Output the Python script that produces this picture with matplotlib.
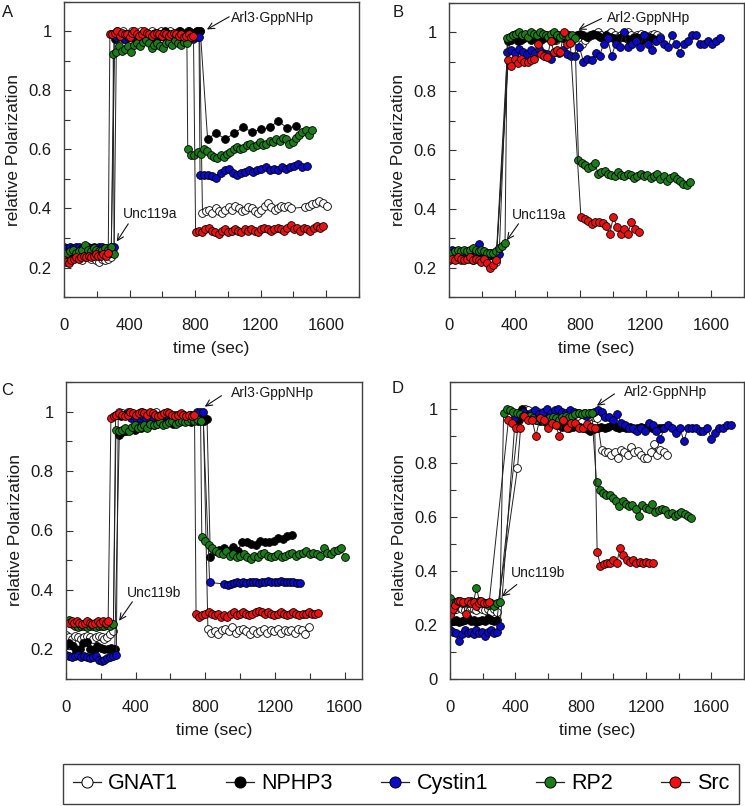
import matplotlib.pyplot as plt
from matplotlib.lines import Line2D
from matplotlib.ticker import MultipleLocator, FuncFormatter

plt.rcParams['font.family'] = ['Liberation Sans', 'DejaVu Sans']

names = ["GNAT1", "NPHP3", "Cystin1", "RP2", "Src"]
colors = ["#ffffff", "#000000", "#0a0ac8", "#1a7d1a", "#f01010"]

# every series = list of segments: (start time in sec, sampling step in sec, values)
# ---------------- panel A: Unc119a, then Arl3-GppNHp ----------------
a_gnat1 = [(0, 18, [0.245, 0.235, 0.24, 0.23, 0.235, 0.24, 0.225, 0.235, 0.24, 0.23, 0.235, 0.225, 0.22, 0.23, 0.225, 0.23, 0.235]),
           (305, 18, [0.99, 1.0, 0.995, 1.0, 0.99, 0.985, 1.0, 0.995, 0.99, 1.0, 0.995, 0.985, 0.99, 1.0, 0.995, 0.99, 1.0, 0.99, 0.995, 1.0, 0.985, 0.99, 1.0, 0.995, 0.99, 1.0, 0.995, 0.99, 1.0, 1.0]),
           (845, 20, [0.385, 0.39, 0.395, 0.385, 0.4, 0.39, 0.385, 0.395, 0.405, 0.395, 0.41, 0.4, 0.39, 0.395, 0.405, 0.4, 0.39, 0.385, 0.395, 0.41, 0.42, 0.405, 0.395, 0.4, 0.41, 0.405, 0.41, 0.4]),
           (1470, 22, [0.405, 0.41, 0.415, 0.42, 0.425, 0.42, 0.41])]
a_nphp3 = [(0, 18, [0.25, 0.255, 0.25, 0.245, 0.25, 0.255, 0.25, 0.245, 0.25, 0.25, 0.255, 0.25, 0.245, 0.25, 0.25, 0.245, 0.25]),
           (310, 18, [0.975, 0.98, 0.985, 0.975, 0.98, 0.99, 0.985, 0.975, 0.98, 0.985, 0.99, 0.98, 0.985, 0.99, 0.995, 0.985, 0.99, 1.0, 0.99, 0.985, 0.99, 0.995, 1.0, 0.99, 0.995, 1.0, 0.99, 0.995, 1.0, 1.0]),
           (876, 54, [0.637, 0.655, 0.635, 0.655, 0.675, 0.66, 0.668, 0.675, 0.697, 0.672, 0.68])]
a_cystin1 = [(0, 18, [0.27, 0.265, 0.27, 0.265, 0.268, 0.27, 0.265, 0.27, 0.268, 0.265, 0.27, 0.265, 0.268, 0.27, 0.265, 0.265, 0.27, 0.268]),
             (320, 18, [0.98, 0.985, 0.98, 0.975, 0.98, 0.985, 0.98, 0.975, 0.98, 0.985, 0.98, 0.985, 0.98, 0.975, 0.98, 0.985, 0.98, 0.975, 0.98, 0.985, 0.98, 0.975, 0.98, 0.985, 0.98, 0.98, 0.975, 0.98, 0.98]),
             (830, 25, [0.512, 0.513, 0.515, 0.51, 0.505, 0.52, 0.53, 0.535, 0.52, 0.515, 0.52, 0.525, 0.53, 0.525, 0.53, 0.535, 0.54, 0.53, 0.535, 0.53, 0.54, 0.535, 0.54, 0.545, 0.55, 0.54, 0.545])]
a_rp2 = [(0, 18, [0.245, 0.25, 0.255, 0.26, 0.25, 0.255, 0.26, 0.275, 0.26, 0.255, 0.265, 0.26, 0.255, 0.26, 0.265, 0.26, 0.27, 0.245]),
         (300, 18, [0.925, 0.93, 0.95, 0.935, 0.94, 0.95, 0.93, 0.955, 0.96, 0.95, 0.965, 0.97, 0.96, 0.945, 0.955, 0.96, 0.95, 0.945, 0.96, 0.965, 0.955, 0.97, 0.96, 0.955, 0.965, 0.96]),
         (755, 20, [0.6, 0.583, 0.58, 0.59, 0.585, 0.6, 0.595, 0.58, 0.575, 0.57, 0.58, 0.575, 0.585, 0.59, 0.6, 0.61, 0.6, 0.605, 0.615, 0.62, 0.61, 0.615, 0.625, 0.615, 0.62, 0.63, 0.625, 0.635, 0.63, 0.64, 0.635, 0.62, 0.625, 0.64, 0.65, 0.66, 0.665, 0.65, 0.665])]
a_src = [(0, 15, [0.225, 0.22, 0.215, 0.225, 0.23, 0.235, 0.23, 0.235, 0.24, 0.235, 0.24, 0.235, 0.24, 0.245, 0.24, 0.24, 0.245, 0.24, 0.25]),
         (280, 15, [0.99, 0.99, 0.995, 1.0, 0.985, 0.995, 0.99, 0.99, 0.98, 0.995, 1.0, 0.99, 0.985, 0.99, 1.0, 0.995, 0.99, 0.985, 0.99, 0.995, 0.99, 0.985, 0.995, 0.99, 0.985, 0.99, 0.995, 0.99, 0.985, 0.99, 0.98, 0.985, 0.99, 0.98, 0.985]),
         (803, 20, [0.322, 0.325, 0.32, 0.33, 0.335, 0.325, 0.32, 0.315, 0.325, 0.33, 0.32, 0.325, 0.33, 0.325, 0.32, 0.33, 0.325, 0.33, 0.325, 0.32, 0.33, 0.335, 0.33, 0.325, 0.33, 0.335, 0.33, 0.325, 0.335, 0.345, 0.33, 0.335, 0.325, 0.335, 0.33, 0.325, 0.335, 0.34, 0.335, 0.34])]

# ---------------- panel B: Unc119a, then Arl2-GppNHp ----------------
b_gnat1 = [(0, 18, [0.225, 0.23, 0.235, 0.23, 0.225, 0.23, 0.235, 0.23, 0.225, 0.23, 0.235, 0.23, 0.235, 0.24, 0.23, 0.225, 0.22]),
           (370, 20, [0.985, 0.99, 0.995, 0.98, 0.99, 0.985, 0.995, 0.98, 0.99, 0.975, 0.985, 0.99, 0.98, 0.985, 0.975, 0.99, 0.98, 0.985, 0.99, 0.975, 0.985, 0.97, 0.96, 0.975, 0.985, 0.99, 0.995, 1.0, 0.99, 0.985, 0.995, 1.0, 0.99, 0.985, 0.99, 0.995, 1.0, 0.99, 0.985, 0.99, 0.995, 0.99, 0.985, 0.99, 0.995, 0.99, 0.985])]
b_nphp3 = [(0, 18, [0.23, 0.235, 0.23, 0.24, 0.235, 0.23, 0.235, 0.24, 0.235, 0.23, 0.24, 0.235, 0.225, 0.24, 0.245, 0.24, 0.235]),
           (360, 20, [0.97, 0.975, 0.98, 0.97, 0.975, 0.98, 0.985, 0.975, 0.98, 0.97, 0.975, 0.98, 0.985, 0.98, 0.975, 0.98, 0.985, 0.98, 0.975, 0.98, 0.985, 0.99, 0.995, 0.99, 0.985, 0.99, 0.995, 0.99, 0.985, 0.98, 0.99, 0.985, 0.98, 0.975, 0.98, 0.985, 0.98, 0.975, 0.98, 0.985, 0.98, 0.975, 0.98, 0.985, 0.98, 0.975])]
b_cystin1 = [(0, 18, [0.25, 0.26, 0.255, 0.25, 0.245, 0.25, 0.255, 0.245, 0.25, 0.245, 0.28, 0.25, 0.245, 0.24, 0.25, 0.245, 0.24, 0.245]),
             (355, 24.5, [0.935, 0.94, 0.93, 0.945, 0.935, 0.925, 0.94, 0.93, 0.945, 0.93, 0.925, 0.91, 0.935, 0.93, 0.94, 0.925, 0.92, 0.92, 0.95, 0.90, 0.91, 0.905, 0.93, 0.92, 0.96, 0.98, 0.92, 0.96, 0.95, 1.0, 0.95, 0.96, 0.97, 0.95, 0.99, 0.96, 0.94, 0.97, 0.98, 0.96, 0.95, 0.99, 0.96, 0.93, 0.96, 0.97, 0.99, 0.99, 0.96, 0.96, 0.97, 0.96, 0.97, 0.98])]
b_rp2 = [(0, 18, [0.245, 0.25, 0.255, 0.26, 0.255, 0.26, 0.255, 0.26, 0.265, 0.26, 0.255, 0.26, 0.255, 0.25, 0.25, 0.25, 0.255, 0.265, 0.275, 0.285]),
         (355, 18, [0.98, 0.985, 0.99, 0.995, 1.0, 0.99, 0.995, 0.985, 1.0, 0.995, 0.99, 1.0, 0.995, 0.99, 0.985, 0.995, 1.0, 0.99, 0.985, 0.99, 0.995, 0.985, 0.99, 0.98]),
         (790, 20, [0.565, 0.555, 0.55, 0.54, 0.545, 0.555, 0.52, 0.525, 0.53, 0.52, 0.515, 0.51, 0.525, 0.515, 0.51, 0.52, 0.515, 0.505, 0.51, 0.52, 0.51, 0.515, 0.505, 0.51, 0.52, 0.50, 0.51, 0.495, 0.505, 0.51, 0.5, 0.495, 0.485, 0.48, 0.49])]
b_src = [(0, 18, [0.225, 0.23, 0.225, 0.235, 0.23, 0.225, 0.23, 0.235, 0.225, 0.23, 0.225, 0.22, 0.23, 0.215, 0.20, 0.21, 0.225]),
         (360, 20, [0.905, 0.885, 0.91, 0.895, 0.91, 0.9, 0.9, 0.905, 0.91, 0.96, 0.925, 0.92, 0.915, 0.97, 0.935, 0.94, 0.935, 1.0, 0.96, 0.965]),
         (805, 22, [0.372, 0.366, 0.36, 0.35, 0.355, 0.355, 0.352, 0.34, 0.315, 0.372, 0.339, 0.315, 0.33, 0.315, 0.355, 0.33, 0.32])]

# ---------------- panel C: Unc119b, then Arl3-GppNHp ----------------
c_gnat1 = [(0, 17, [0.247, 0.24, 0.235, 0.245, 0.24, 0.235, 0.24, 0.245, 0.24, 0.235, 0.24, 0.245, 0.24, 0.235, 0.24, 0.25, 0.26]),
           (285, 18, [0.99, 1.0, 0.995, 0.99, 1.0, 0.995, 0.985, 0.99, 1.0, 0.995, 0.99, 0.985, 0.995, 1.0, 0.99, 0.985, 0.995, 0.99, 0.985, 0.99, 0.985, 0.99, 0.98, 0.985, 0.99, 0.98, 0.985, 0.98, 0.985]),
           (815, 20, [0.27, 0.255, 0.26, 0.25, 0.265, 0.27, 0.26, 0.275, 0.255, 0.265, 0.27, 0.26, 0.25, 0.265, 0.255, 0.26, 0.27, 0.255, 0.265, 0.26, 0.27, 0.255, 0.265, 0.26, 0.265, 0.255, 0.27, 0.265, 0.25, 0.275])]
c_nphp3 = [(0, 20, [0.215, 0.22, 0.21, 0.195, 0.2, 0.22, 0.225, 0.2, 0.195, 0.21, 0.205, 0.2, 0.2, 0.205, 0.2]),
           (306, 18, [0.922, 0.93, 0.935, 0.94, 0.945, 0.94, 0.95, 0.945, 0.955, 0.95, 0.96, 0.955, 0.96, 0.965, 0.96, 0.97, 0.965, 0.96, 0.97, 0.965, 0.97, 0.975, 0.97, 0.965, 0.975, 0.97, 0.975, 0.97, 0.975]),
           (829, 26, [0.51, 0.53, 0.535, 0.54, 0.53, 0.545, 0.53, 0.56, 0.56, 0.555, 0.55, 0.565, 0.56, 0.56, 0.565, 0.575, 0.57, 0.58, 0.585])]
c_cystin1 = [(0, 17, [0.18, 0.178, 0.175, 0.178, 0.18, 0.175, 0.178, 0.175, 0.172, 0.175, 0.178, 0.165, 0.16, 0.165, 0.17, 0.175, 0.178, 0.18]),
             (300, 18, [0.99, 0.985, 0.99, 0.995, 0.98, 0.985, 0.975, 0.98, 0.985, 0.98, 0.975, 0.98, 0.985, 0.98, 0.985, 0.99, 0.985, 0.98, 0.985, 0.99, 0.985, 0.99, 0.985, 0.99, 0.985, 1.0, 1.0, 1.0]),
             (825, 1, [0.425]),
             (910, 18, [0.42, 0.418, 0.42, 0.422, 0.425, 0.423, 0.425, 0.422, 0.425, 0.427, 0.425, 0.423, 0.425, 0.428, 0.43, 0.425, 0.428, 0.425, 0.43, 0.428, 0.425, 0.428, 0.425, 0.423, 0.422])]
c_rp2 = [(17, 17, [0.30, 0.285, 0.28, 0.275, 0.278, 0.28, 0.275, 0.28, 0.278, 0.275, 0.28, 0.278, 0.28, 0.282, 0.28, 0.285]),
         (287, 18, [0.94, 0.935, 0.94, 0.945, 0.935, 0.95, 0.955, 0.945, 0.95, 0.955, 0.945, 0.96, 0.955, 0.96, 0.965, 0.955, 0.96, 0.965, 0.97, 0.96, 0.965, 0.97, 0.965, 0.97, 0.975, 0.97, 0.975, 0.97]),
         (780, 20, [0.578, 0.565, 0.55, 0.54, 0.53, 0.525, 0.52, 0.53, 0.515, 0.52, 0.51, 0.515, 0.52, 0.51, 0.505, 0.515, 0.51, 0.52, 0.525, 0.515, 0.51, 0.515, 0.52, 0.51, 0.515, 0.52, 0.525, 0.515, 0.52, 0.525, 0.53, 0.52, 0.525, 0.52, 0.515, 0.54, 0.525, 0.52, 0.53, 0.535, 0.54, 0.51])]
c_src = [(17, 15, [0.29, 0.295, 0.29, 0.295, 0.29, 0.285, 0.29, 0.295, 0.29, 0.285, 0.29, 0.295, 0.29, 0.295, 0.29, 0.295]),
         (258, 16, [0.979, 0.985, 0.99, 0.995, 0.99, 0.985, 0.99, 1.0, 0.995, 0.99, 0.995, 1.0, 0.995, 0.99, 1.0, 0.995, 0.99, 0.985, 0.99, 0.995, 1.0, 0.995, 0.99, 0.985, 0.99, 0.995, 0.99, 0.985, 0.99, 0.985, 0.99]),
         (747, 18, [0.32, 0.31, 0.315, 0.32, 0.325, 0.32, 0.315, 0.32, 0.31, 0.315, 0.31, 0.32, 0.325, 0.315, 0.32, 0.325, 0.32, 0.315, 0.32, 0.325, 0.33, 0.325, 0.32, 0.325, 0.32, 0.315, 0.32, 0.325, 0.32, 0.315, 0.32, 0.325, 0.32, 0.315, 0.32, 0.32, 0.325, 0.32, 0.32, 0.322])]

# ---------------- panel D: Unc119b, then Arl2-GppNHp ----------------
d_gnat1 = [(0, 18, [0.26, 0.255, 0.26, 0.265, 0.26, 0.255, 0.26, 0.265, 0.26, 0.255, 0.265, 0.26, 0.255, 0.26, 0.25, 0.26, 0.25]),
           (413, 1, [0.78]),
           (440, 20, [0.99, 1.0, 0.995, 0.98, 0.985, 0.99, 0.975, 0.98, 0.97, 0.975, 0.96, 0.965, 0.97, 0.975, 0.96, 0.965, 0.97, 0.975, 0.98, 0.985, 0.98, 0.975, 0.97, 0.965]),
           (928, 20, [0.85, 0.84, 0.84, 0.83, 0.84, 0.82, 0.85, 0.84, 0.83, 0.86, 0.84, 0.845, 0.83, 0.82, 0.82, 0.84, 0.87, 0.83, 0.85, 0.84, 0.83])]
d_nphp3 = [(0, 18, [0.21, 0.215, 0.22, 0.21, 0.215, 0.22, 0.225, 0.215, 0.22, 0.21, 0.215, 0.22, 0.215, 0.225, 0.22, 0.215, 0.22]),
           (420, 22, [0.96, 1.0, 0.98, 0.97, 0.975, 0.96, 0.955, 0.965, 0.95, 0.945, 0.95, 0.94, 0.935, 0.94, 0.93, 0.935, 0.94, 0.935, 0.93, 0.925, 0.92, 0.925, 0.93, 0.935, 0.93, 0.935, 0.94, 0.935, 0.93, 0.935, 0.93, 0.935, 0.925, 0.93, 0.935, 0.93, 0.935, 0.93, 0.925, 0.93, 0.93])]
d_cystin1 = [(0, 18, [0.18, 0.175, 0.17, 0.139, 0.165, 0.18, 0.17, 0.175, 0.165, 0.18, 0.17, 0.175, 0.16, 0.175, 0.18, 0.17, 0.175, 0.195]),
             (400, 24, [0.97, 0.98, 0.99, 0.975, 0.985, 0.995, 0.98, 0.99, 1.0, 0.985, 0.995, 1.0, 0.99, 0.985, 0.995, 0.99, 0.985, 0.98, 0.975, 0.985, 0.99, 0.995,
                        0.99, 0.97, 0.97, 0.96, 0.98, 0.95, 0.94, 0.93, 0.93, 0.92, 0.93, 0.92, 0.95, 0.94, 0.92, 0.89, 0.93, 0.94, 0.93, 0.91, 0.93, 0.88, 0.93, 0.93, 0.93, 0.92, 0.92, 0.93, 0.89, 0.91, 0.93, 0.93, 0.94, 0.94])]
d_rp2 = [(0, 18, [0.30, 0.28, 0.285, 0.29, 0.28, 0.285, 0.28, 0.29, 0.285, 0.338, 0.29, 0.28, 0.28, 0.275, 0.28, 0.27, 0.28, 0.285]),
         (328, 20, [0.985, 1.0, 0.995, 0.99, 0.985, 0.98, 0.975, 0.97, 0.975, 0.965, 0.96, 0.965, 0.955, 0.96, 0.965, 0.97, 0.965, 0.96, 0.97, 0.975, 0.97, 0.975, 0.98, 0.985, 0.98, 0.985, 0.985, 0.985]),
         (897, 20, [0.73, 0.70, 0.69, 0.68, 0.68, 0.67, 0.66, 0.64, 0.66, 0.65, 0.64, 0.645, 0.63, 0.603, 0.645, 0.635, 0.63, 0.65, 0.62, 0.625, 0.63, 0.625, 0.61, 0.615, 0.605, 0.61, 0.62, 0.61, 0.605, 0.595])]
d_src = [(0, 16, [0.238, 0.26, 0.275, 0.29, 0.29, 0.285, 0.24, 0.29, 0.28, 0.285, 0.27, 0.28, 0.29, 0.28, 0.28, 0.285]),
         (358, 24, [0.96, 0.95, 0.93, 0.93, 0.975, 0.96, 0.96, 0.90, 0.965, 0.96, 0.93, 0.95, 0.94, 0.90, 0.96, 0.93, 0.95, 0.95, 0.93, 0.93, 0.945, 0.935, 0.93]),
         (901, 20, [0.47, 0.42, 0.425, 0.43, 0.43, 0.44, 0.43, 0.485, 0.46, 0.44, 0.435, 0.44, 0.43, 0.435, 0.43, 0.435, 0.43, 0.43])]


def series_xy(segs):
    t, v = [], []
    for t0, dt, vals in segs:
        t += [t0 + dt * i for i in range(len(vals))]
        v += list(vals)
    return t, v


fig = plt.figure(figsize=(7.45, 8.06), dpi=100)
W, H = 745, 806

def px_axes(x0, y0, x1, y1):
    return fig.add_axes([x0 / W, 1 - y1 / H, (x1 - x0) / W, (y1 - y0) / H])

panels = [
    # letter, axes box (px), series, xmax, ymin, annotations (text, text pos, arrow tail, arrow tip)
    ("A", (64, 2, 359, 297), [a_gnat1, a_nphp3, a_cystin1, a_rp2, a_src], 1800, 0.1,
     [("Arl3\u00b7GppNHp", (1016, 1.046), (1008, 1.05), (872, 1.007)),
      ("Unc119a", (360, 0.382), (392, 0.348), (322, 0.288))]),
    ("B", (449, 3, 744, 297), [b_gnat1, b_nphp3, b_cystin1, b_rp2, b_src], 1800, 0.1,
     [("Arl2\u00b7GppNHp", (961, 1.05), (931, 1.047), (790, 1.009)),
      ("Unc119a", (383, 0.38), (424, 0.349), (353, 0.293))]),
    ("C", (66, 382, 362, 679), [c_gnat1, c_nphp3, c_cystin1, c_rp2, c_src], 1700, 0.1,
     [("Arl3\u00b7GppNHp", (949, 1.063), (893, 1.054), (797, 1.017)),
      ("Unc119b", (352, 0.39), (381, 0.36), (305, 0.296))]),
    ("D", (450, 382, 744, 679), [d_gnat1, d_nphp3, d_cystin1, d_rp2, d_src], 1800, 0.0,
     [("Arl2\u00b7GppNHp", (1068, 1.063), (1007, 1.056), (899, 1.012)),
      ("Unc119b", (373, 0.394), (409, 0.35), (318, 0.306))]),
]

label_pos = {"A": (2, 5), "B": (393, 5), "C": (1, 383), "D": (392, 381)}

for letter, box, series, xmax, ymin, notes in panels:
    ax = px_axes(*box)
    for segs, col in zip(series, colors):
        t, v = series_xy(segs)
        ax.plot(t, v, color="#222222", lw=0.7, marker="o", ms=5.6,
                mfc=col, mec="#000000", mew=0.6)
    ax.set_xlim(0, xmax)
    ax.set_ylim(ymin, 1.1)
    ax.xaxis.set_major_locator(MultipleLocator(400))
    ax.xaxis.set_minor_locator(MultipleLocator(200))
    ax.yaxis.set_major_locator(MultipleLocator(0.2))
    ax.yaxis.set_minor_locator(MultipleLocator(0.1))
    ax.yaxis.set_major_formatter(FuncFormatter(lambda y, p: f"{round(y, 2):g}"))
    ax.tick_params(which="both", direction="in", top=False, right=False,
                   color="#333333", width=0.8, labelsize=12, labelcolor="#1a1a1a")
    ax.tick_params(which="major", length=5)
    ax.tick_params(which="minor", length=4)
    ax.tick_params(axis="x", pad=15)
    ax.tick_params(axis="y", pad=9)
    for s in ax.spines.values():
        s.set_color("#404040")
        s.set_linewidth(1.0)
    ax.set_xlabel("time (sec)", fontsize=12.5, color="#1a1a1a", labelpad=6)
    ax.set_ylabel("relative Polarization", fontsize=12.5, color="#1a1a1a", labelpad=5)
    for txt, tpos, tail, tip in notes:
        ax.text(tpos[0], tpos[1], txt, fontsize=10, ha="left", va="center", color="#1a1a1a")
        ax.annotate("", xy=tip, xytext=tail,
                    arrowprops=dict(arrowstyle="->,head_length=0.45,head_width=0.22",
                                    lw=0.8, color="#111111", shrinkA=0, shrinkB=0))
    lx, ly = label_pos[letter]
    fig.text(lx / W, 1 - ly / H, letter, fontsize=12, ha="left", va="top", color="#1a1a1a")

handles = [Line2D([0], [0], color="#222222", lw=0.9, marker="o", ms=8,
                  mfc=c, mec="#000000", mew=0.7) for c in colors]
leg = fig.legend(handles, names, loc="lower left", ncol=5, mode="expand",
                 bbox_to_anchor=(63 / W, 2 / H, 676 / W, 45 / H), borderaxespad=0,
                 fontsize=15.5, handlelength=1.3, handletextpad=0.35,
                 fancybox=False, framealpha=1, edgecolor="#404040", borderpad=0.45)
leg.get_frame().set_linewidth(1.0)

fig.savefig("out.png", dpi=100)
